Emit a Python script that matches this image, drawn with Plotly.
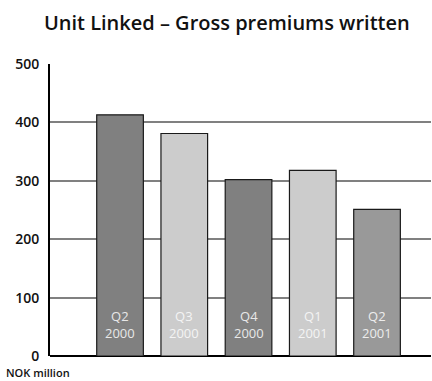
import plotly.graph_objects as go

categories = ["Q2<br>2000", "Q3<br>2000", "Q4<br>2000", "Q1<br>2001", "Q2<br>2001"]
values = [413, 381, 302, 318, 251]
colors = ["#808080", "#cccccc", "#808080", "#cccccc", "#999999"]
label_colors = ["#e8e8e8", "#f4f4f4", "#e8e8e8", "#f4f4f4", "#ededed"]
yticks = [0, 100, 200, 300, 400, 500]

xs = list(range(len(values)))

fig = go.Figure()
fig.add_trace(go.Bar(
    x=xs, y=values, width=0.726,
    marker=dict(color=colors, line=dict(color="#1a1a1a", width=1.2)),
    hoverinfo="skip", showlegend=False,
))

for i, (c, lc) in enumerate(zip(categories, label_colors)):
    fig.add_annotation(x=i, y=21, xref="x", yref="y", text=c, showarrow=False,
                       yanchor="bottom", font=dict(family="Open Sans", size=13, color=lc))

fig.update_layout(
    width=432, height=381,
    margin=dict(l=50, r=1, t=64, b=25),
    paper_bgcolor="white", plot_bgcolor="white",
    title=dict(text="Unit Linked – Gross premiums written", x=0.525, xanchor="center",
               y=0.94, yanchor="middle",
               font=dict(family="Open Sans", size=20, color="#111111", weight=600)),
    xaxis=dict(range=[-1.09, 4.84], showticklabels=False, showgrid=False, zeroline=False,
               showline=False, fixedrange=True),
    yaxis=dict(range=[0, 500], tickvals=yticks, ticktext=[str(v) for v in yticks],
               showgrid=True, gridcolor="#808080", gridwidth=1.5,
               zeroline=True, zerolinecolor="black", zerolinewidth=2,
               showline=True, linecolor="black", linewidth=2,
               ticks="", ticklabelstandoff=6,
               tickfont=dict(family="Open Sans", size=14, color="#111111", weight=600)),
)
fig.add_annotation(x=0, y=0, xref="paper", yref="paper", xshift=-46, yshift=-7,
                   text="NOK million", showarrow=False, xanchor="left", yanchor="top",
                   font=dict(family="Open Sans", size=11, color="#111111", weight=600))

fig.write_html("out.html")
